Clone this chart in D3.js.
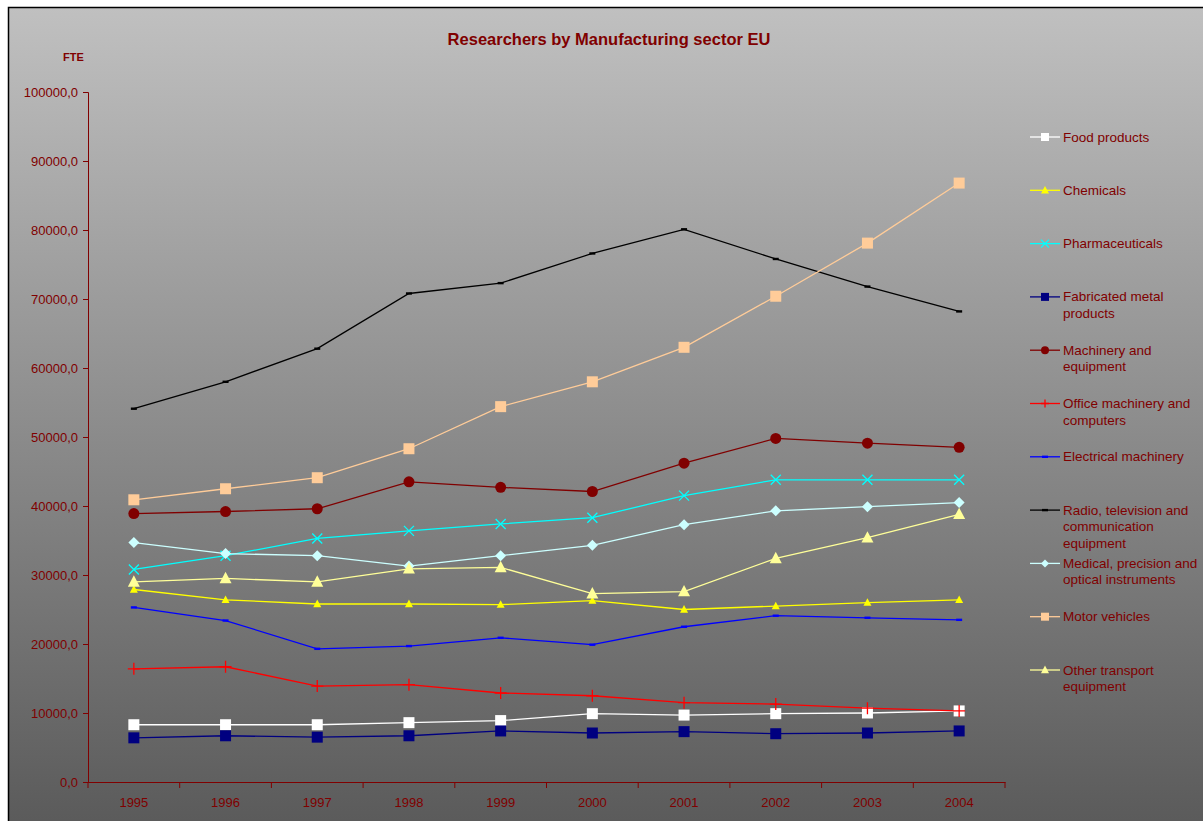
<!DOCTYPE html>
<html>
<head>
<meta charset="utf-8">
<script src="https://cdn.jsdelivr.net/npm/d3@7"></script>
<style>
  body { margin: 0; background: #fff; }
  text { font-family: "Liberation Sans", Arial, sans-serif; }
</style>
</head>
<body>
<div id="chart"></div>
<script>
const years = ['1995', '1996', '1997', '1998', '1999', '2000', '2001', '2002', '2003', '2004'];
const yTicks = [0, 10000, 20000, 30000, 40000, 50000, 60000, 70000, 80000, 90000, 100000];

const food = [8300, 8300, 8300, 8600, 8900, 9900, 9700, 9900, 10000, 10300];
const chemicals = [27900, 26400, 25800, 25800, 25700, 26300, 25000, 25500, 26000, 26400];
const pharma = [30800, 32800, 35300, 36400, 37400, 38300, 41500, 43800, 43800, 43800];
const fabricated = [6400, 6700, 6500, 6700, 7400, 7100, 7300, 7000, 7100, 7400];
const machinery = [38900, 39200, 39600, 43500, 42700, 42100, 46200, 49800, 49100, 48500];
const office = [16400, 16700, 13900, 14100, 12900, 12500, 11500, 11300, 10700, 10300];
const electrical = [25300, 23400, 19300, 19700, 20900, 19900, 22500, 24100, 23800, 23500];
const radio = [54100, 58000, 62800, 70800, 72300, 76600, 80100, 75800, 71800, 68200];
const medical = [34700, 33100, 32800, 31300, 32800, 34300, 37300, 39300, 39900, 40500];
const motor = [40900, 42500, 44100, 48300, 54400, 58000, 63000, 70400, 78100, 86800];
const otherTransport = [29000, 29500, 29000, 30900, 31100, 27300, 27600, 32400, 35400, 38800];

const series = [
  { name: ['Food products'], values: food, color: '#ffffff', marker: 'square', size: 11 },
  { name: ['Chemicals'], values: chemicals, color: '#ffff00', marker: 'triangle', size: 8 },
  { name: ['Pharmaceuticals'], values: pharma, color: '#00ffff', marker: 'x', size: 10 },
  { name: ['Fabricated metal', 'products'], values: fabricated, color: '#000080', marker: 'square', size: 11 },
  { name: ['Machinery and', 'equipment'], values: machinery, color: '#800000', marker: 'circle', size: 11 },
  { name: ['Office machinery and', 'computers'], values: office, color: '#ff0000', marker: 'plus', size: 12 },
  { name: ['Electrical machinery'], values: electrical, color: '#0000ff', marker: 'dash', size: 6 },
  { name: ['Radio, television and', 'communication', 'equipment'], values: radio, color: '#000000', marker: 'dash', size: 6 },
  { name: ['Medical, precision and', 'optical instruments'], values: medical, color: '#ccffff', marker: 'diamond', size: 11 },
  { name: ['Motor vehicles'], values: motor, color: '#ffcc99', marker: 'square', size: 11 },
  { name: ['Other transport', 'equipment'], values: otherTransport, color: '#ffff99', marker: 'triangle', size: 12 }
];

const W = 1203, H = 821;
const margin = { left: 88, right: 198, top: 92, bottom: 39 };
const axisColor = '#800000';

const svg = d3.select('#chart').append('svg')
  .attr('width', W)
  .attr('height', H);

const grad = svg.append('defs').append('linearGradient')
  .attr('id', 'bg')
  .attr('x1', 0).attr('y1', 0).attr('x2', 0).attr('y2', 1);
grad.append('stop').attr('offset', '0%').attr('stop-color', '#c0c0c0');
grad.append('stop').attr('offset', '100%').attr('stop-color', '#5a5a5a');

svg.append('rect')
  .attr('x', 8.5).attr('y', 7.5)
  .attr('width', W).attr('height', H)
  .attr('fill', 'url(#bg)')
  .attr('stroke', '#000')
  .attr('stroke-width', 1.5);

const x = d3.scaleBand()
  .domain(years)
  .range([margin.left, W - margin.right]);

const y = d3.scaleLinear()
  .domain([0, 100000])
  .range([H - margin.bottom, margin.top]);

// y axis
const yAxis = svg.append('g')
  .attr('transform', `translate(${margin.left},0)`)
  .call(d3.axisLeft(y).tickValues(yTicks).tickSize(5).tickPadding(5)
    .tickFormat(d => d3.format('.1f')(d).replace('.', ',')));
yAxis.selectAll('path, line').attr('stroke', axisColor);
yAxis.selectAll('text').attr('fill', axisColor).style('font-size', '13px');

// x axis
const xAxis = svg.append('g')
  .attr('transform', `translate(0,${H - margin.bottom})`)
  .call(d3.axisBottom(x).tickSize(0).tickPadding(16));
xAxis.select('path').attr('stroke', axisColor);
xAxis.selectAll('text').attr('fill', axisColor).style('font-size', '13px');
xAxis.selectAll('.sep')
  .data(years)
  .enter().append('line')
  .attr('x1', d => x(d) + x.bandwidth())
  .attr('x2', d => x(d) + x.bandwidth())
  .attr('y1', 0).attr('y2', 6)
  .attr('stroke', axisColor);
xAxis.append('line')
  .attr('x1', margin.left).attr('x2', margin.left)
  .attr('y1', 0).attr('y2', 6)
  .attr('stroke', axisColor);

// title and unit
svg.append('text')
  .attr('x', 609).attr('y', 45)
  .attr('text-anchor', 'middle')
  .attr('fill', axisColor)
  .style('font-size', '16.5px')
  .style('font-weight', 'bold')
  .text('Researchers by Manufacturing sector EU');

svg.append('text')
  .attr('x', 63).attr('y', 61)
  .attr('fill', axisColor)
  .style('font-size', '11px')
  .style('font-weight', 'bold')
  .text('FTE');

function drawMarker(g, s, cx, cy) {
  const h = s.size / 2;
  if (s.marker === 'square') {
    g.append('rect').attr('x', cx - h).attr('y', cy - h)
      .attr('width', s.size).attr('height', s.size).attr('fill', s.color);
  } else if (s.marker === 'circle') {
    g.append('circle').attr('cx', cx).attr('cy', cy).attr('r', h).attr('fill', s.color);
  } else if (s.marker === 'diamond') {
    g.append('path').attr('d', `M${cx},${cy - h}L${cx + h},${cy}L${cx},${cy + h}L${cx - h},${cy}Z`)
      .attr('fill', s.color);
  } else if (s.marker === 'triangle') {
    g.append('path').attr('d', `M${cx},${cy - h * 1.1}L${cx + h},${cy + h * 0.8}L${cx - h},${cy + h * 0.8}Z`)
      .attr('fill', s.color);
  } else if (s.marker === 'x') {
    g.append('path').attr('d', `M${cx - h},${cy - h}L${cx + h},${cy + h}M${cx - h},${cy + h}L${cx + h},${cy - h}`)
      .attr('stroke', s.color).attr('stroke-width', 1.3);
  } else if (s.marker === 'plus') {
    g.append('path').attr('d', `M${cx - h},${cy}L${cx + h},${cy}M${cx},${cy - h}L${cx},${cy + h}`)
      .attr('stroke', s.color).attr('stroke-width', 1.3);
  } else if (s.marker === 'dash') {
    g.append('rect').attr('x', cx - h).attr('y', cy - 1.2)
      .attr('width', s.size).attr('height', 2.4).attr('fill', s.color);
  }
}

const line = d3.line()
  .x((d, i) => x(years[i]) + x.bandwidth() / 2)
  .y(d => y(d));

const plot = svg.append('g');
series.forEach(s => {
  plot.append('path')
    .datum(s.values)
    .attr('d', line)
    .attr('fill', 'none')
    .attr('stroke', s.color)
    .attr('stroke-width', 1.3);
});
series.forEach(s => {
  const g = plot.append('g');
  s.values.forEach((v, i) => drawMarker(g, s, x(years[i]) + x.bandwidth() / 2, y(v)));
});

// legend
const legendTop = 137, legendStep = 53.3;
series.forEach((s, i) => {
  const ly = legendTop + i * legendStep;
  const g = svg.append('g');
  g.append('line')
    .attr('x1', 1030).attr('x2', 1060)
    .attr('y1', ly).attr('y2', ly)
    .attr('stroke', s.color).attr('stroke-width', 1.3);
  drawMarker(g, Object.assign({}, s, { size: Math.min(s.size, 8) }), 1045, ly);
  const t = g.append('text')
    .attr('x', 1063).attr('y', ly + 4.5)
    .attr('fill', axisColor)
    .style('font-size', '13.5px');
  s.name.forEach((n, j) => {
    t.append('tspan').attr('x', 1063).attr('dy', j === 0 ? 0 : 16.5).text(n);
  });
});
</script>
</body>
</html>
